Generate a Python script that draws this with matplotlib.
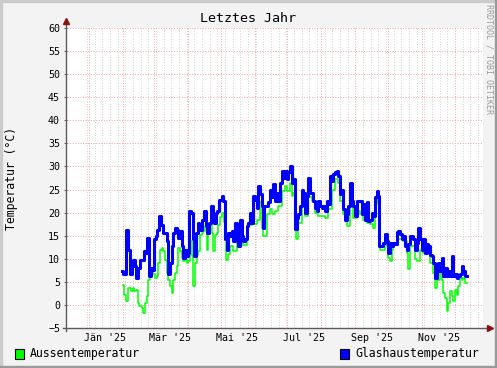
import matplotlib

matplotlib.use("Agg")
import matplotlib.pyplot as plt
from matplotlib.patches import Rectangle
import numpy as np


# Days since 2025-01-01
BLUE_DAY = [
    30.1, 31.3, 33.5, 34.7, 35.9, 37.1, 38.3, 38.9, 40.4, 42.0,
    42.9, 44.1, 45.0, 46.5, 48.1, 49.5, 50.2, 52.0, 53.2, 54.1,
    55.0, 56.3, 58.1, 59.3, 61.1, 62.3, 64.1, 65.4, 67.2, 69.3,
    70.9, 72.4, 73.9, 75.5, 76.9, 78.5, 80.0, 81.5, 83.0, 84.5,
    86.0, 87.6, 89.1, 90.6, 91.5, 93.1, 94.6, 96.1, 97.6, 99.2,
    100.6, 102.8, 104.9, 106.8, 108.0, 109.8, 111.0, 112.9, 114.1, 115.9,
    117.1, 118.9, 121.1, 122.5, 124.1, 125.6, 127.1, 128.6, 130.2, 131.7,
    133.2, 134.8, 136.2, 137.8, 139.3, 140.8, 142.3, 143.9, 145.3, 146.9,
    148.4, 149.9, 151.5, 153.0, 154.5, 156.0, 157.6, 158.5, 159.7, 162.1,
    163.6, 165.1, 166.7, 168.2, 169.7, 171.3, 172.7, 174.3, 175.8, 177.3,
    178.8, 180.4, 181.8, 183.4, 184.9, 186.4, 188.0, 189.5, 191.0, 192.5,
    194.1, 195.5, 197.1, 198.6, 200.1, 201.6, 203.2, 204.7, 206.2, 207.8,
    209.2, 210.8, 212.3, 213.8, 215.3, 216.9, 218.3, 219.9, 221.4, 222.9,
    224.5, 226.0, 227.5, 229.0, 230.5, 232.0, 233.6, 235.1, 236.6, 238.1,
    239.6, 241.1, 242.7, 244.3, 245.7, 247.3, 248.8, 250.3, 251.8, 253.4,
    254.8, 256.4, 257.9, 259.4, 261.0, 262.5, 264.0, 264.9, 267.0, 268.5,
    270.1, 271.6, 273.1, 274.6, 276.2, 277.6, 279.2, 280.7, 282.2, 283.8,
    285.3, 286.8, 288.3, 289.9, 291.3, 292.9, 294.4, 295.9, 297.4, 299.0,
    300.5, 302.0, 303.6, 305.0, 306.6, 308.1, 309.6, 311.1, 312.7, 314.1,
    315.7, 317.2, 318.7, 320.3, 321.8, 323.3, 324.8, 326.4, 327.8, 329.4,
    330.9, 332.4, 334.0, 335.5, 337.0, 338.5, 340.0, 341.5, 343.1, 344.5,
]
BLUE_TEMP = [
    7.3, 6.6, 16.3, 16.3, 12.0, 6.6, 6.6, 8.4, 9.8, 8.4,
    5.8, 5.8, 8.0, 9.8, 9.8, 9.8, 11.6, 11.3, 14.5, 14.5,
    6.2, 8.0, 7.6, 14.2, 14.9, 16.3, 19.2, 17.4, 15.6, 15.6,
    13.8, 6.6, 9.1, 12.7, 15.6, 16.7, 16.3, 14.5, 16.0, 12.7,
    10.2, 12.0, 10.5, 11.3, 20.3, 19.9, 14.2, 10.5, 15.6, 17.8,
    16.3, 18.5, 20.3, 17.0, 15.6, 17.8, 21.4, 19.2, 17.8, 19.9,
    20.3, 22.8, 23.5, 22.5, 14.2, 12.0, 15.6, 14.9, 16.0, 13.8,
    17.8, 14.5, 12.7, 18.5, 14.9, 13.8, 14.2, 17.0, 17.8, 19.9,
    17.8, 23.6, 22.8, 21.0, 25.8, 24.0, 21.4, 16.7, 21.4, 21.4,
    22.2, 25.0, 23.3, 26.2, 22.5, 24.3, 22.5, 26.5, 29.0, 27.6,
    29.0, 27.2, 28.7, 30.1, 26.5, 27.2, 16.4, 18.9, 19.6, 21.4,
    25.0, 24.3, 20.0, 23.6, 27.6, 24.3, 24.3, 22.5, 21.0, 20.4,
    22.5, 21.4, 21.0, 21.4, 20.4, 22.5, 21.8, 28.0, 26.9, 28.3,
    28.7, 29.0, 28.0, 24.0, 25.0, 20.7, 18.5, 19.6, 21.4, 26.5,
    22.5, 21.4, 19.3, 22.5, 22.5, 22.5, 19.6, 21.8, 18.5, 22.2,
    18.2, 18.5, 20.0, 19.3, 23.3, 24.7, 23.6, 12.8, 12.8, 13.5,
    15.3, 13.8, 11.3, 13.5, 12.8, 13.5, 13.1, 15.7, 16.0, 15.3,
    14.2, 14.9, 12.8, 12.0, 13.1, 14.9, 14.9, 14.2, 12.0, 13.5,
    16.7, 14.2, 12.0, 14.2, 11.3, 13.1, 12.8, 10.9, 10.6, 9.1,
    5.9, 7.3, 9.1, 7.3, 10.2, 6.2, 8.0, 6.2, 7.3, 6.2,
    10.6, 6.2, 6.6, 5.9, 6.2, 6.6, 8.4, 7.3, 6.2, 6.2,
]

GREEN_DAY = [
    30.7, 31.9, 33.8, 35.9, 38.0, 39.9, 41.3, 42.9, 44.4, 45.9,
    48.1, 49.5, 51.1, 52.6, 54.1, 55.7, 57.2, 58.7, 60.2, 61.8,
    63.2, 64.8, 66.3, 67.8, 69.3, 70.9, 72.4, 73.9, 75.5, 76.9,
    78.5, 80.0, 81.5, 83.0, 84.5, 86.0, 87.6, 89.1, 90.6, 92.2,
    93.7, 95.2, 96.7, 98.3, 99.7, 101.3, 102.8, 104.3, 105.8, 107.4,
    108.8, 110.4, 111.9, 113.4, 115.0, 116.5, 118.0, 119.5, 121.4, 123.2,
    124.9, 126.8, 128.6, 131.7, 134.8, 137.8, 140.8, 143.9, 145.3, 148.4,
    153.0, 156.0, 157.6, 159.1, 162.1, 165.1, 166.7, 169.7, 172.7, 175.8,
    178.8, 180.4, 183.4, 184.9, 186.4, 188.6, 191.0, 194.1, 195.5, 197.1,
    200.1, 203.2, 206.2, 209.2, 212.3, 215.3, 218.3, 221.4, 224.5, 227.5,
    229.0, 232.0, 235.1, 238.1, 241.1, 244.3, 247.3, 250.3, 253.4, 256.4,
    259.4, 261.0, 262.5, 264.0, 265.5, 268.5, 270.1, 271.6, 273.1, 274.6,
    276.2, 277.6, 280.7, 283.8, 286.8, 289.9, 291.3, 292.9, 295.9, 297.4,
    299.0, 302.0, 305.0, 308.1, 311.1, 314.1, 315.7, 317.2, 320.3, 321.8,
    323.3, 324.8, 326.4, 327.8, 329.4, 330.9, 332.4, 334.0, 335.5, 337.0,
    338.5, 340.0, 341.5, 343.1, 344.5,
]
GREEN_TEMP = [
    4.4, 2.2, 0.8, 3.7, 3.0, 3.7, 3.0, 3.3, 0.4, -0.3,
    -0.6, -1.7, 0.4, 1.9, 5.5, 6.2, 7.7, 6.6, 5.8, 6.2,
    9.1, 12.0, 12.3, 11.6, 9.8, 6.9, 5.5, 4.0, 2.6, 5.5,
    6.9, 8.4, 12.3, 11.6, 10.2, 9.5, 9.8, 9.1, 9.5, 13.8,
    10.5, 4.0, 9.1, 10.9, 11.6, 15.2, 15.6, 16.0, 17.0, 12.0,
    16.3, 17.4, 15.6, 11.6, 15.2, 15.6, 17.4, 19.0, 20.0, 18.0,
    9.8, 11.0, 12.7, 11.6, 13.8, 16.3, 13.0, 16.3, 17.4, 17.5,
    18.5, 22.2, 16.7, 15.0, 19.6, 20.7, 19.6, 20.4, 21.4, 24.7,
    25.8, 24.7, 26.5, 23.6, 24.3, 14.2, 17.8, 22.2, 24.0, 19.3,
    23.3, 22.5, 20.0, 19.3, 19.3, 18.9, 20.7, 25.0, 27.2, 26.5,
    22.5, 19.6, 17.1, 23.6, 18.9, 20.4, 19.6, 18.5, 17.8, 17.5,
    16.7, 21.8, 23.3, 22.2, 12.0, 12.0, 14.6, 12.8, 10.2, 9.5,
    12.0, 13.1, 14.2, 14.2, 13.8, 11.3, 7.7, 12.8, 12.8, 9.9,
    9.5, 12.0, 11.3, 11.3, 9.1, 7.0, 3.7, 5.5, 7.0, 5.5,
    2.6, 1.5, -1.4, 0.4, 3.0, 1.9, 0.8, 3.3, 2.2, 4.0,
    5.9, 5.5, 5.9, 4.8, 4.8,
]

# Month starts in 2025 (day offsets) and axis labels
MONTH_STARTS = [0, 31, 59, 90, 120, 151, 181, 212, 243, 273, 304, 334]
LABEL_DAYS = [15, 74, 135, 196, 258, 319]
LABEL_TEXT = ["Jän '25", "Mär '25", "Mai '25", "Jul '25", "Sep '25", "Nov '25"]

GREEN = "#00FF00"
BLUE = "#0000FF"
MONO = "DejaVu Sans Mono"

W, H = 497, 368
fig = plt.figure(figsize=(W / 100, H / 100), dpi=100)
fig.patch.set_facecolor("#F3F3F3")

# 3D-ish border like rrdtool
fig.patches.append(Rectangle((0, 0), 2 / W, 1, transform=fig.transFigure, color="#CBCBCB", zorder=0))
fig.patches.append(Rectangle((0, 1 - 2 / H), 1, 2 / H, transform=fig.transFigure, color="#CBCBCB", zorder=0))
fig.patches.append(Rectangle((1 - 2 / W, 0), 2 / W, 1, transform=fig.transFigure, color="#9A9A9A", zorder=0))
fig.patches.append(Rectangle((0, 0), 1, 2 / H, transform=fig.transFigure, color="#9A9A9A", zorder=0))

ax = fig.add_axes([67 / W, (H - 328) / H, 416 / W, 300 / H])
ax.set_facecolor("white")

x_lo = -20.1
x_hi = 359.5
ax.set_xlim(x_lo, x_hi)
ax.set_ylim(-5, 60)

# grid: weekly minor (Mondays), monthly major, every 5 degrees
mondays = np.arange(-2, x_hi, 7)
ax.set_xticks(MONTH_STARTS)
ax.set_xticks(mondays, minor=True)
ax.set_yticks(np.arange(-5, 61, 5))
ax.set_xticklabels([])
ax.grid(which="minor", axis="x", color="#D4D4D4", linestyle=(0, (1, 1.6)), linewidth=0.72)
ax.grid(which="major", axis="both", color="#F2A8A8", linestyle=(0, (1, 1.6)), linewidth=0.72)
ax.set_axisbelow(True)

ax.tick_params(axis="x", which="both", length=0)
ax.tick_params(axis="y", which="major", length=2.5, width=0.7, color="#606060",
               pad=2.5, labelsize=7.2)
for lbl in ax.get_yticklabels():
    lbl.set_fontfamily(MONO)

for day, text in zip(LABEL_DAYS, LABEL_TEXT):
    ax.text(day, -0.033, text, transform=ax.get_xaxis_transform(),
            ha="center", va="center", fontsize=7.2, family=MONO)

for side in ax.spines.values():
    side.set_visible(False)

ax.plot(GREEN_DAY, GREEN_TEMP, drawstyle="steps-post", color=GREEN, linewidth=1.1, zorder=3)
ax.plot(BLUE_DAY, BLUE_TEMP, drawstyle="steps-post", color=BLUE, linewidth=2.2, zorder=4)

# axes with arrows
ax.plot([-1 / 416, -1 / 416], [-3 / 300, 1 + 5 / 300], transform=ax.transAxes,
        color="#5A5A5A", linewidth=1, clip_on=False, zorder=5)
ax.plot([-4 / 416, 1 + 5 / 416], [0, 0], transform=ax.transAxes,
        color="#5A5A5A", linewidth=1, clip_on=False, zorder=5)
ax.plot([-1 / 416], [1 + 7 / 300], transform=ax.transAxes, marker="^", markersize=4.5,
        color="#8B1010", clip_on=False, zorder=6)
ax.plot([1 + 7 / 416], [0], transform=ax.transAxes, marker=">", markersize=4.5,
        color="#8B1010", clip_on=False, zorder=6)

fig.text(248.5 / W, 1 - 19 / H, "Letztes Jahr", ha="center", va="center",
         fontsize=9.6, family=MONO)
fig.text(12 / W, 1 - 178 / H, "Temperatur (°C)", rotation=90, ha="center", va="center",
         fontsize=8.3, family=MONO)
fig.text(489 / W, 1 - 4 / H, "RRDTOOL / TOBI OETIKER", rotation=270, ha="center", va="top",
         fontsize=6, family=MONO, color="#9C9C9C")

# legend
legend_items = [(15, GREEN, "Aussentemperatur"), (340, BLUE, "Glashaustemperatur")]
for x0, col, name in legend_items:
    fig.patches.append(Rectangle((x0 / W, 1 - 359 / H), 9 / W, 10 / H, transform=fig.transFigure,
                                 facecolor=col, edgecolor="black", linewidth=0.8, zorder=3))
    fig.text((x0 + 15) / W, 1 - 354 / H, name, ha="left", va="center", fontsize=8.3, family=MONO)

fig.savefig("out.png", dpi=100, facecolor=fig.get_facecolor())
